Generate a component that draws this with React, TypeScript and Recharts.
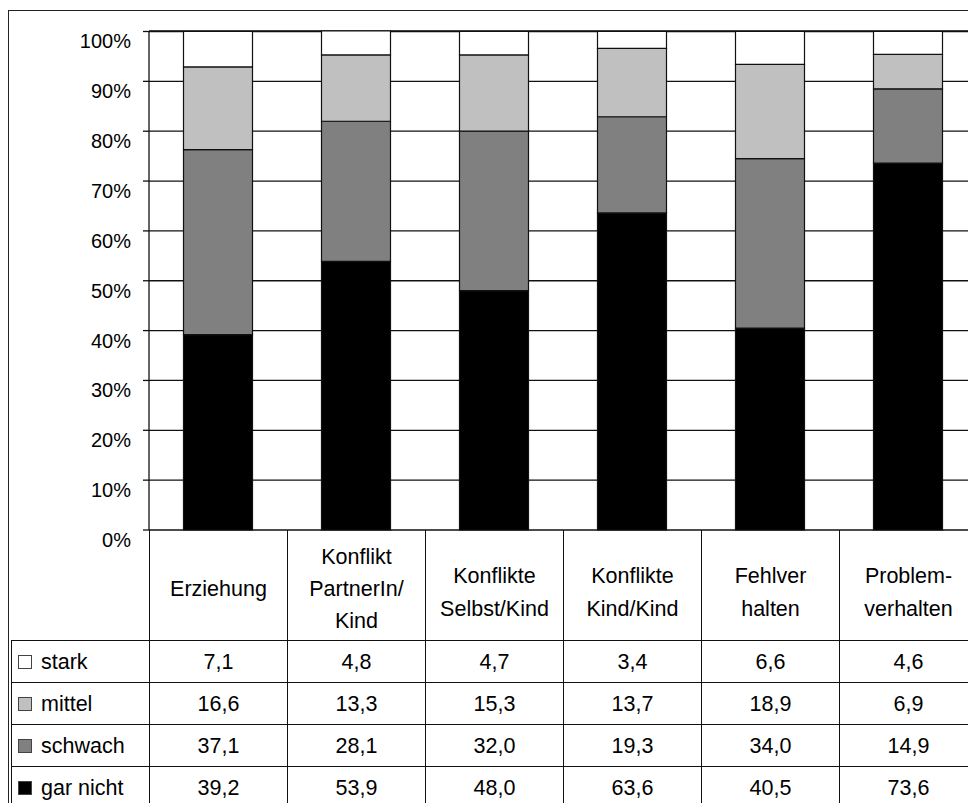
import { Bar, BarChart, CartesianGrid, XAxis, YAxis } from "recharts";

const categories = [
  "Erziehung",
  "Konflikt PartnerIn/Kind",
  "Konflikte Selbst/Kind",
  "Konflikte Kind/Kind",
  "Fehlverhalten",
  "Problemverhalten",
];
const headerLines = [
  ["Erziehung"],
  ["Konflikt", "PartnerIn/", "Kind"],
  ["Konflikte", "Selbst/Kind"],
  ["Konflikte", "Kind/Kind"],
  ["Fehlver", "halten"],
  ["Problem-", "verhalten"],
];
const stark = [7.1, 4.8, 4.7, 3.4, 6.6, 4.6];
const mittel = [16.6, 13.3, 15.3, 13.7, 18.9, 6.9];
const schwach = [37.1, 28.1, 32.0, 19.3, 34.0, 14.9];
const garNicht = [39.2, 53.9, 48.0, 63.6, 40.5, 73.6];
const yTicks = [0, 10, 20, 30, 40, 50, 60, 70, 80, 90, 100];

const series = [
  { key: "garNicht", label: "gar nicht", color: "#000000", values: garNicht },
  { key: "schwach", label: "schwach", color: "#808080", values: schwach },
  { key: "mittel", label: "mittel", color: "#c0c0c0", values: mittel },
  { key: "stark", label: "stark", color: "#ffffff", values: stark },
];
// table rows run top-down: stark first
const tableRows = [...series].reverse();

const data = categories.map((name, i) => ({
  name,
  garNicht: garNicht[i],
  schwach: schwach[i],
  mittel: mittel[i],
  stark: stark[i],
}));

const FONT = "'Liberation Sans', Arial, sans-serif";
const PLOT_LEFT = 149;
const COL_W = 138;
const HEAD_TOP = 530;
const ROWS_TOP = 640;
const ROW_H = 42;
const TABLE_FS = 21.5;

const fmt = (v: number) => v.toFixed(1).replace(".", ",");

const YTick = ({ y, payload }: any) => (
  <text
    x={131}
    y={y + 10}
    textAnchor="end"
    dominantBaseline="central"
    fontSize={20}
    fontFamily={FONT}
    fill="#000"
  >
    {payload.value}%
  </text>
);

export default function App() {
  return (
    <div
      style={{
        position: "fixed",
        left: 0,
        top: 0,
        width: 968,
        height: 803,
        overflow: "hidden",
        background: "#fff",
        fontFamily: FONT,
        color: "#000",
      }}
    >
      <div
        style={{
          position: "absolute",
          left: 8,
          top: 10,
          width: 1100,
          height: 1000,
          border: "1px solid #222",
        }}
      />
      <div style={{ position: "absolute", left: 0, top: 0 }}>
        <BarChart
          width={1000}
          height={570}
          data={data}
          margin={{ top: 31, right: 1000 - (PLOT_LEFT + COL_W * 6), left: 0, bottom: 40 }}
          barCategoryGap="25%"
        >
          <CartesianGrid vertical={false} stroke="#111" strokeWidth={1.3} />
          <XAxis dataKey="name" hide />
          <YAxis
            width={PLOT_LEFT}
            domain={[0, 100]}
            ticks={yTicks}
            interval={0}
            tick={<YTick />}
            tickSize={6}
            axisLine={{ stroke: "#111", strokeWidth: 1.3 }}
            tickLine={{ stroke: "#111", strokeWidth: 1.3 }}
          />
          {series.map((s) => (
            <Bar
              key={s.key}
              dataKey={s.key}
              stackId="a"
              fill={s.color}
              stroke="#111"
              strokeWidth={1.2}
              isAnimationActive={false}
            />
          ))}
        </BarChart>
      </div>

      {/* category header cells */}
      {headerLines.map((lines, i) => (
        <div
          key={categories[i]}
          style={{
            position: "absolute",
            left: PLOT_LEFT + i * COL_W,
            top: HEAD_TOP,
            width: COL_W,
            height: ROWS_TOP - HEAD_TOP,
            borderLeft: "1.3px solid #111",
            display: "flex",
            flexDirection: "column",
            justifyContent: "center",
            alignItems: "center",
            paddingTop: lines.length === 2 ? 16 : 8,
            boxSizing: "border-box",
            fontSize: TABLE_FS,
            lineHeight: lines.length === 2 ? "33px" : "32px",
            textAlign: "center",
          }}
        >
          {lines.map((l) => (
            <div key={l}>{l}</div>
          ))}
        </div>
      ))}

      {/* data table rows */}
      {tableRows.map((s, r) => (
        <div key={s.key}>
          <div
            style={{
              position: "absolute",
              left: 11,
              top: ROWS_TOP + r * ROW_H,
              width: 1100,
              height: ROW_H,
              borderTop: "1.3px solid #111",
              borderLeft: "1.3px solid #111",
              boxSizing: "border-box",
            }}
          />
          <div
            style={{
              position: "absolute",
              left: 18,
              top: ROWS_TOP + r * ROW_H + 15,
              width: 12,
              height: 12,
              background: s.color,
              border: "1px solid #444",
            }}
          />
          <div
            style={{
              position: "absolute",
              left: 41,
              top: ROWS_TOP + r * ROW_H + 1,
              height: ROW_H,
              lineHeight: `${ROW_H}px`,
              fontSize: TABLE_FS,
            }}
          >
            {s.label}
          </div>
          {s.values.map((v, i) => (
            <div
              key={i}
              style={{
                position: "absolute",
                left: PLOT_LEFT + i * COL_W,
                top: ROWS_TOP + r * ROW_H + 1,
                width: COL_W,
                height: ROW_H,
                lineHeight: `${ROW_H}px`,
                borderLeft: "1.3px solid #111",
                boxSizing: "border-box",
                textAlign: "center",
                fontSize: TABLE_FS,
              }}
            >
              {fmt(v)}
            </div>
          ))}
        </div>
      ))}
    </div>
  );
}
